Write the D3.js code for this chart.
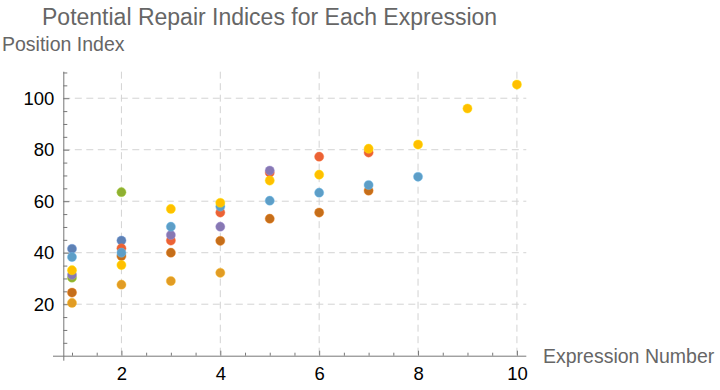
<!DOCTYPE html>
<html>
<head>
<meta charset="utf-8">
<script src="https://cdn.jsdelivr.net/npm/d3@7/dist/d3.min.js"></script>
<style>
  html, body { margin: 0; padding: 0; background: #fff; }
  svg { display: block; font-family: "Liberation Sans", Arial, Helvetica, sans-serif; }
</style>
</head>
<body>
<svg id="chart" width="720" height="390"></svg>
<script>
// ---- data ----
const expressions = [1, 2, 3, 4, 5, 6, 7, 8, 9, 10];
const seriesNames = ["s1", "s2", "s3", "s4", "s5", "s6", "s7", "s8"];
const s1 = [41.5, 44.7, null, null, null, null, null, null, null, null];
const s2 = [20.5, 27.6, 29.0, 32.2, null, null, null, null, null, null];
const s3 = [30.3, 63.5, null, null, null, null, null, null, null, null];
const s4 = [null, 41.7, 44.7, 55.6, 71.1, 77.3, 78.9, null, null, null];
const s5 = [31.4, null, 46.9, 50.1, 71.9, null, null, null, null, null];
const s6 = [24.5, 38.7, 40.0, 44.6, 53.2, 55.6, 64.1, null, null, null];
const s7 = [38.3, 40.0, 50.1, 57.9, 60.2, 63.3, 66.3, 69.5, null, null];
const s8 = [33.2, 35.2, 57.0, 59.4, 68.0, 70.3, 80.4, 82.0, 96.0, 105.3];
const seriesValues = [s1, s2, s3, s4, s5, s6, s7, s8];
const colors = ["#5E81B5", "#E19C24", "#8FB032", "#EB6235", "#8778B3", "#C56E1A", "#5D9EC7", "#FFBF00"];
const xTickLabels = [2, 4, 6, 8, 10];
const yTickLabels = [20, 40, 60, 80, 100];
const titleText = "Potential Repair Indices for Each Expression";
const xLabel = "Expression Number";
const yLabel = "Position Index";

// ---- layout ----
const svg = d3.select("#chart");
const x = d3.scaleLinear().domain([0.824, 10.19]).range([63.3, 526.3]);
const y = d3.scaleLinear().domain([0, 110.3]).range([355.7, 71.7]);
const axisColor = "#777";
const gridColor = "#d3d3d3";

// gridlines
const grid = svg.append("g");
grid.selectAll("line.gx").data(xTickLabels).enter().append("line")
  .attr("x1", d => x(d)).attr("x2", d => x(d))
  .attr("y1", y.range()[1]).attr("y2", y.range()[0])
  .attr("stroke", gridColor).attr("stroke-width", 1).attr("stroke-dasharray", "7,4.5");
grid.selectAll("line.gy").data(yTickLabels).enter().append("line")
  .attr("x1", x.range()[0]).attr("x2", x.range()[1])
  .attr("y1", d => y(d)).attr("y2", d => y(d))
  .attr("stroke", gridColor).attr("stroke-width", 1).attr("stroke-dasharray", "7,4.5");

// x axis
const xMinor = d3.range(1, 10.01, 0.5).filter(v => xTickLabels.indexOf(v) < 0);
const xAxisG = svg.append("g").attr("transform", `translate(0,${y(0)})`);
xAxisG.call(d3.axisBottom(x).tickValues(xMinor).tickSize(-3).tickFormat(""));
xAxisG.append("g").call(d3.axisBottom(x).tickValues(xTickLabels).tickSize(-5).tickPadding(11).tickFormat(d3.format("d")));
xAxisG.selectAll(".domain").remove();
xAxisG.append("line").attr("x1", 53).attr("x2", x.range()[1]).attr("y1", 0.5).attr("y2", 0.5)
  .attr("stroke", axisColor).attr("stroke-width", 1);
xAxisG.selectAll(".tick line").attr("stroke", axisColor);
xAxisG.selectAll(".tick text").attr("fill", "#000").attr("font-size", 18.5).attr("font-family", "Liberation Sans, Arial, sans-serif");

// y axis
const yMinor = d3.range(5, 110.01, 5).filter(v => yTickLabels.indexOf(v) < 0);
const yAxisG = svg.append("g").attr("transform", `translate(${x.range()[0]},0)`);
yAxisG.call(d3.axisLeft(y).tickValues(yMinor).tickSize(-4).tickFormat(""));
yAxisG.append("g").call(d3.axisLeft(y).tickValues(yTickLabels).tickSize(-6).tickPadding(9).tickFormat(d3.format("d")));
yAxisG.selectAll(".domain").remove();
yAxisG.append("line").attr("x1", 0.5).attr("x2", 0.5).attr("y1", y.range()[1]).attr("y2", y(0) + 5)
  .attr("stroke", axisColor).attr("stroke-width", 1);
yAxisG.selectAll(".tick line").attr("stroke", axisColor);
yAxisG.selectAll(".tick text").attr("fill", "#000").attr("font-size", 18.5).attr("font-family", "Liberation Sans, Arial, sans-serif");

// points
const pts = svg.append("g");
seriesValues.forEach((vals, i) => {
  const data = expressions.map((e, j) => ({ x: e, y: vals[j] })).filter(d => d.y != null);
  pts.append("g").selectAll("circle").data(data).enter().append("circle")
    .attr("cx", d => x(d.x)).attr("cy", d => y(d.y)).attr("r", 4.6)
    .attr("fill", colors[i])
    .attr("stroke", d3.color(colors[i]).brighter(0.6)).attr("stroke-opacity", 0.5).attr("stroke-width", 0.8);
});

// labels
svg.append("text").attr("x", 42).attr("y", 25).attr("fill", "#666").attr("font-size", 23)
  .text(titleText);
svg.append("text").attr("x", 2).attr("y", 51).attr("fill", "#666").attr("font-size", 19.5)
  .text(yLabel);
svg.append("text").attr("x", 543).attr("y", 363).attr("fill", "#666").attr("font-size", 19.5)
  .text(xLabel);
</script>
</body>
</html>
